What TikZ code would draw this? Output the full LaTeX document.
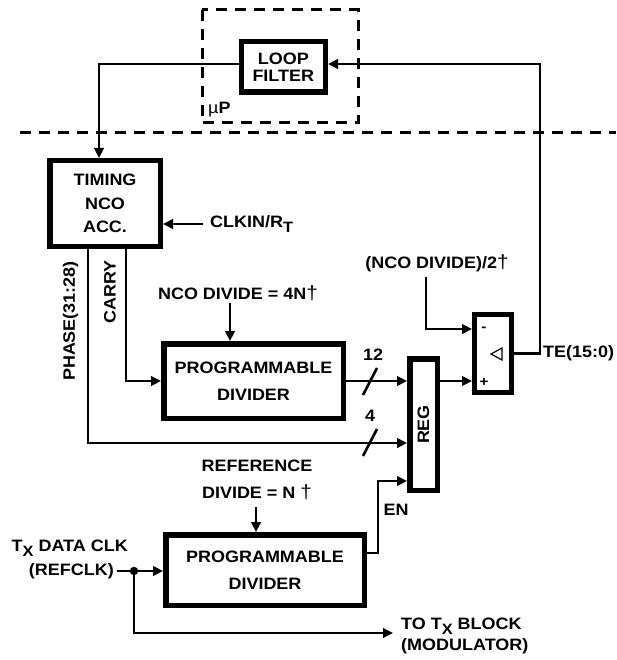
\documentclass[tikz,border=0pt]{standalone}
\usepackage{fontspec}
\setmainfont{Liberation Sans}[FakeStretch=1.09]
\usetikzlibrary{arrows.meta}
\newcommand\mysub[1]{\raisebox{-5pt}{\fontsize{15}{15}\selectfont #1}}
\newcommand\mydag{{\mdseries\fontsize{19}{19}\selectfont\textdagger}}
\begin{document}
\begin{tikzpicture}[x=1pt,y=-1pt,
  lbl/.style={font=\bfseries\fontsize{16.5}{23.5}\selectfont, inner sep=0pt, align=center},
  blk/.style={draw, line width=5.5pt, lbl},
  arr/.style={line width=2.6pt, -{Triangle[length=10pt,width=9.5pt]}},
  ln/.style={line width=2.6pt},
  dsh/.style={line width=3pt, dash pattern=on 11pt off 8pt}]
\useasboundingbox (0,0) rectangle (616,660);

% dashed microprocessor region
\draw[dsh] (202,10) rectangle (358,123);
\draw[dsh] (20,133) -- (616,133);
\node[lbl, anchor=west] (mup) at (208,110) {{\mdseries µ}P};

% blocks
\node[blk, minimum width=84pt, minimum height=50.5pt] (lf) at (283.3,67) {LOOP\\[-7pt]FILTER};
\node[blk, minimum width=110.5pt, minimum height=85.5pt] (tim) at (105,203.5) {TIMING\\NCO\\ACC.};
\node[blk, minimum width=179.5pt, minimum height=74.5pt] (pd1) at (253.5,381) {PROGRAMMABLE\\[3.5pt]DIVIDER};
\node[blk, minimum width=27.5pt, minimum height=131.5pt] (reg) at (423.5,424.5) {};
\node[lbl, rotate=90] (regt) at (reg.center) {REG};
\node[blk, line width=5pt, minimum width=37pt, minimum height=78pt] (cmp) at (493,353.5) {};
\node[blk, minimum width=198.5pt, minimum height=70.5pt] (pd2) at (265,570) {PROGRAMMABLE\\[3.5pt]DIVIDER};

% comparator contents
\node[lbl, font=\bfseries\fontsize{14}{14}\selectfont] (minus) at (484,329) {-};
\node[lbl, font=\bfseries\fontsize{14}{14}\selectfont] (plus) at (484,382) {+};
\draw[line width=1.2pt, line join=miter] (491,354) -- (502,348) -- (502,360) -- cycle;

% labels
\node[lbl, anchor=west] (clk) at (210,224) {CLKIN/R\mysub{T}};
\node[lbl, rotate=90] (phl) at (70.5,321) {PHASE(31:28)};
\node[lbl, rotate=90] (cal) at (110,292) {CARRY};
\node[lbl] (ncod) at (238,293) {NCO DIVIDE = 4N\mydag};
\node[lbl] (ncod2) at (437,263) {(NCO DIVIDE)/2\mydag};
\node[lbl] (b12) at (373,355) {12};
\node[lbl] (b4) at (370,416) {4};
\node[lbl, anchor=west] (te) at (543,353) {TE(15:0)};
\node[lbl] (refd) at (257,480) {REFERENCE\\[3.5pt]DIVIDE = N \mydag};
\node[lbl] (en) at (396,510) {EN};
\node[lbl, anchor=east] (tx1) at (128,548) {T\mysub{X} DATA CLK};
\node[lbl, anchor=east] (tx2) at (114,571) {(REFCLK)};
\node[lbl, align=left, anchor=west] (tob) at (401,636) {TO T\mysub{X} BLOCK\\[-3pt](MODULATOR)};

% helper coordinates
\coordinate (tr) at (540,64);
\coordinate (tl) at (99,64);
\coordinate (clkin) at (203,224);
\coordinate (ph) at (88,443);
\coordinate (ca) at (126,381);
\coordinate (nd) at (230,303);
\coordinate (mi) at (426,329);
\coordinate (mis) at (426,277);
\coordinate (rd) at (256,507);
\coordinate (en1) at (378,553);
\coordinate (en2) at (378,481);
\coordinate (dot) at (134,571);
\coordinate (tox) at (393,633);

% connectors
\draw[arr] (cmp.east) -| (tr) -- (tr -| lf.east);
\draw[arr] (tl -| lf.west) -- (tl) -- (tl |- tim.north);
\draw[arr] (clkin) -- (clkin -| tim.east);
\draw[arr] (tim.south -| ph) -- (ph) -- (ph -| reg.west);
\draw[arr] (tim.south -| ca) -- (ca) -- (ca -| pd1.west);
\draw[arr] (nd) -- (nd |- pd1.north);
\draw[arr] (pd1.east) -- (pd1.east -| reg.west);
\draw[arr] (reg.east |- pd1.east) -- (cmp.west |- pd1.east);
\draw[arr] (mis) -- (mi) -- (mi -| cmp.west);
\draw[arr] (rd) -- (rd |- pd2.north);
\draw[arr] (pd2.east |- en1) -- (en1) -- (en2) -- (en2 -| reg.west);
\draw[arr] ([xshift=3pt]tx2.east |- dot) -- (dot -| pd2.west);
\fill (dot) circle (4.2pt);
\draw[arr] (dot) |- (tox);

% bus slashes
\draw[ln] (363,395) -- (377,368);
\draw[ln] (363,456) -- (377,429);
\end{tikzpicture}
\end{document}
